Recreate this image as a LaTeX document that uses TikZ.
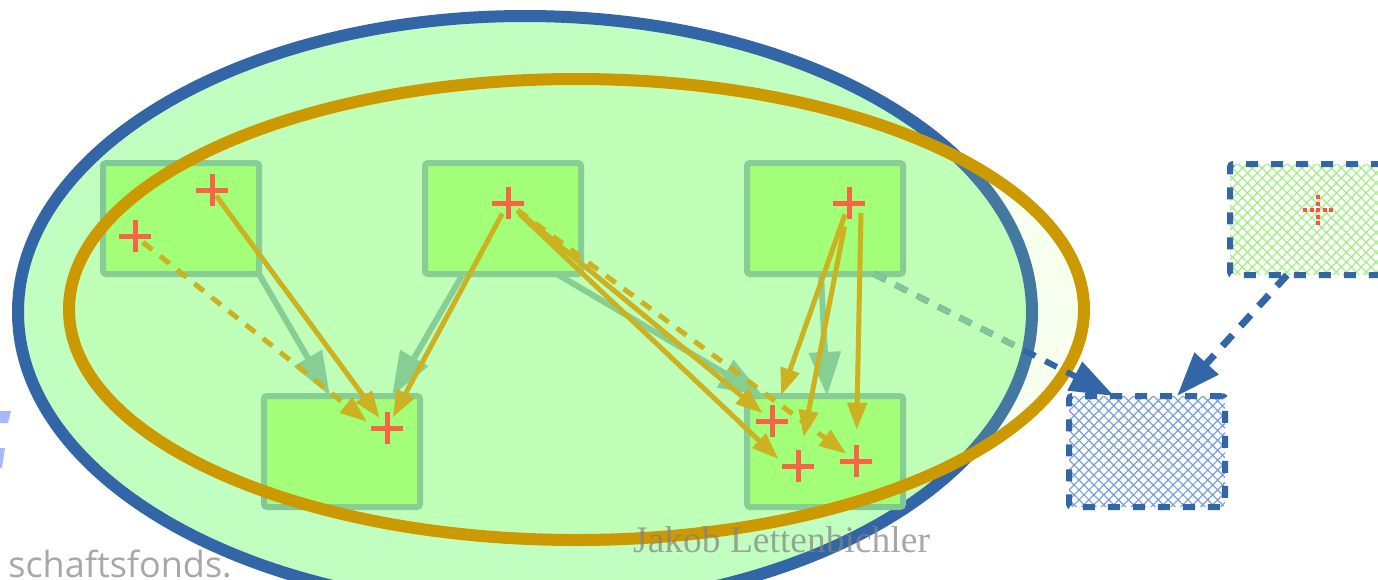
\documentclass[tikz,border=0pt]{standalone}
\usepackage{fontspec}
\usetikzlibrary{arrows.meta,positioning,calc,patterns.meta}
\newfontfamily\opensans{Open Sans}
\newfontfamily\libserif{Liberation Serif}
\definecolor{setblue}{RGB}{51,102,166}
\definecolor{setfill}{RGB}{192,255,192}
\definecolor{setgold}{RGB}{204,153,0}
\definecolor{setglow}{RGB}{190,255,120}
\definecolor{boxfill}{RGB}{160,255,120}
\definecolor{boxframe}{RGB}{128,200,152}
\definecolor{mapgold}{RGB}{206,168,20}
\definecolor{elemred}{RGB}{255,80,64}
\definecolor{hatchblue}{RGB}{120,160,220}
\definecolor{hatchgreen}{RGB}{160,240,128}
\definecolor{glyphblue}{RGB}{168,184,255}
\definecolor{fundgray}{RGB}{168,168,168}
\definecolor{authgray}{RGB}{130,130,130}

\begin{document}
\begin{tikzpicture}[x=1pt,y=-1pt,
  blk/.style={draw=boxframe,line width=6pt,fill=boxfill,rounded corners=3pt,
    minimum width=156pt,minimum height=111pt,inner sep=0pt,outer sep=0pt},
  hblk/.style={draw=setblue,line width=6pt,dash pattern=on 12pt off 13pt,
    rounded corners=3pt,minimum width=156pt,minimum height=111pt,inner sep=0pt,outer sep=0pt},
  spot/.style={circle,inner sep=0pt,minimum size=24pt},
  plusline/.style={elemred,line width=5pt},
  morph/.style={boxframe,line width=6pt,-{Triangle[length=44pt,width=31pt]}},
  bigarr/.style={setblue,-{Triangle[length=44pt,width=31pt]}},
  goldarr/.style={mapgold,line width=5pt,-{Triangle[length=27pt,width=19pt]}},
  goldnat/.style={goldarr,dash pattern=on 12pt off 10pt},
]
  \fill[white] (0,0) rectangle (1378,579);
  \useasboundingbox (0,0) rectangle (1378,579);
  \clip (0,0) rectangle (1378,579);

  \draw[setblue,line width=12pt,fill=setfill] (525,312) ellipse [x radius=507pt,y radius=296pt];

  \node[blk] (b1) at (181,218.5) {};
  \node[blk,right=166pt of b1] (b2) {};
  \node[blk,right=166pt of b2] (b3) {};
  \node[blk,below=122pt of b3] (b5) {};
  \node[blk,below=122pt of b1,xshift=161pt] (b4) {};
  \node[hblk,pattern={Hatch[angle=45,distance=7pt,line width=1.2pt]},pattern color=hatchblue,
    right=166pt of b5] (hb) {};
  \node[hblk,pattern={Hatch[angle=45,distance=7pt,line width=1.2pt]},pattern color=hatchgreen]
    (hg) at (1308,219.5) {};

  \node[spot] (c1a) at (212,190) {};
  \node[spot] (c1b) at (135,236) {};
  \node[spot] (c2) at (508,203) {};
  \node[spot] (c3) at (849,203) {};
  \node[spot] (c4) at (387,428) {};
  \node[spot] (c5a) at (772,421) {};
  \node[spot] (c5b) at (798,466) {};
  \node[spot] (c5c) at (856,461) {};
  \node[spot] (cg) at (1318,210) {};

  \draw[morph] (b1.south east) -- ([xshift=-12pt]b4.north);
  \draw[morph] ([xshift=-40pt]b2.south) -- ([xshift=50pt]b4.north);
  \draw[morph] ([xshift=-24pt]b2.south east) -- ([xshift=16pt]b5.north west);
  \draw[morph] ([xshift=-4pt]b3.south) -- ([xshift=2pt]b5.north);

  \draw[goldarr,shorten <=7pt] (c1a.center) -- (c4);
  \draw[goldnat,shorten <=10pt,shorten >=10pt] (c1b.center) -- (c4.west);
  \draw[goldarr,shorten <=12pt] (c2.center) -- (c4);
  \draw[goldarr,shorten <=12pt] (c2.center) -- (c5a);
  \draw[goldarr,shorten <=16pt,shorten >=10pt] (c2.center) -- (c5b.west);
  \draw[goldnat,shorten <=12pt] (c2.center) -- (c5c);
  \draw[goldarr,shorten <=12pt,shorten >=15pt] (c3.center) -- (c5a);
  \draw[goldarr,shorten <=24pt,shorten >=17pt] (c3.center) -- (c5b);
  \draw[goldarr,shorten <=10pt,shorten >=19pt] (c3.east) -- (c5c);

  \foreach \c in {c1a,c1b,c2,c3,c4,c5a,c5b,c5c}
    \draw[plusline] ([yshift=16pt]\c.center) -- ([yshift=-16pt]\c.center)
      ([xshift=-16pt]\c.center) -- ([xshift=16pt]\c.center);
  \draw[plusline,line width=4pt,dash pattern=on 4pt off 2.5pt]
    ([yshift=15pt]cg.center) -- ([yshift=-15pt]cg.center)
    ([xshift=-15pt]cg.center) -- ([xshift=15pt]cg.center);

  \draw[setgold,line width=12pt,fill=setglow,fill opacity=0.12]
    (576.5,309.5) ellipse [x radius=507.5pt,y radius=230.5pt];

  \draw[bigarr,line width=6pt,dash pattern=on 13pt off 11pt]
    ([xshift=-29pt]b3.south east) -- ([xshift=45pt]hb.north west);
  \begin{scope}
    \clip (525,312) ellipse [x radius=501pt,y radius=290pt];
    \draw[boxframe,line width=6pt,dash pattern=on 13pt off 11pt]
      ([xshift=-29pt]b3.south east) -- ([xshift=45pt]hb.north west);
  \end{scope}
  \draw[bigarr,line width=7pt,dash pattern=on 15pt off 12pt]
    ([xshift=-21pt]hg.south) -- ([xshift=30pt]hb.north);

  \fill[glyphblue] (0,411) -- (11,411) -- (8,423) -- (0,423) -- cycle;
  \fill[glyphblue] (0,448) -- (5,448) -- (2,468) -- (0,468) -- cycle;

  \node[anchor=base east,inner sep=0pt,font=\opensans\fontsize{36}{43}\selectfont,
    text=fundgray] (fund) at (232,577) {schaftsfonds.};
  \node[anchor=base west,inner sep=0pt,font=\libserif\fontsize{37.5}{45}\selectfont,
    text=authgray,text opacity=0.7] (author) at (633,552) {Jakob Lettenbichler};
\end{tikzpicture}
\end{document}
